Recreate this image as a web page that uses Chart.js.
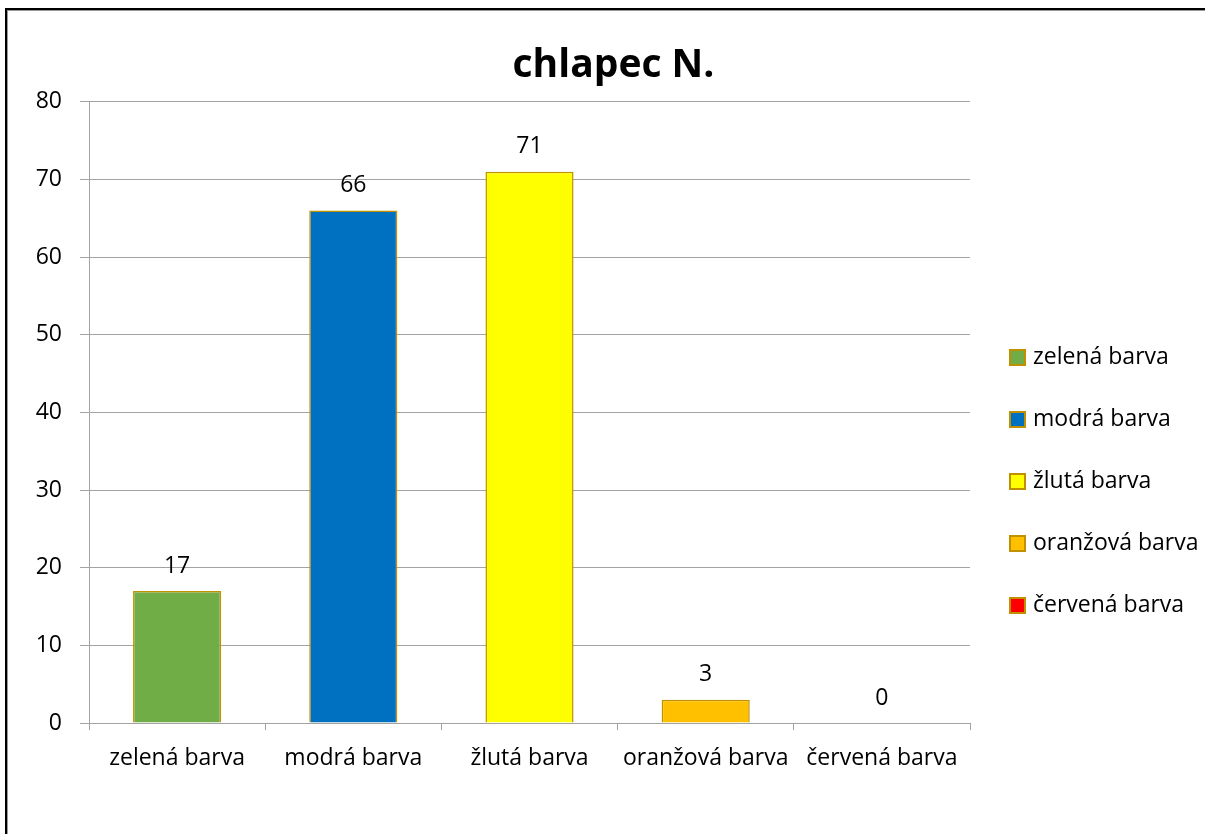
<!DOCTYPE html>
<html>
<head>
<meta charset="utf-8">
<script src="https://cdn.jsdelivr.net/npm/chart.js@4"></script>
<style>
  html, body { margin: 0; padding: 0; background: #fff; overflow: hidden; }
  #wrap { position: relative; width: 1205px; height: 834px; }
  #frame {
    position: absolute; left: 5px; top: 8px; width: 1300px; height: 900px;
    border-left: 2px solid #000; border-top: 2px solid #000;
    box-shadow: 1px 1px 0 #999 inset;
    pointer-events: none;
  }
  canvas { position: absolute; left: 0; top: 0; }
</style>
</head>
<body>
<div id="wrap">
  <canvas id="chart" width="1205" height="834"></canvas>
  <div id="frame"></div>
</div>
<script>
// chart data
const chartTitle = "chlapec N.";
const categories = ["zelená barva", "modrá barva", "žlutá barva", "oranžová barva", "červená barva"];
const values = [17, 66, 71, 3, 0];
const barColors = ["#70ad47", "#0070c0", "#ffff00", "#ffc000", "#ff0000"];
const yTicks = [0, 10, 20, 30, 40, 50, 60, 70, 80];

const fontFamily = "'Open Sans', 'DejaVu Sans', sans-serif";
const edgeColor = "#bf9000";
const gridColor = "#a3a3a3";

// value labels above each bar
const valueLabels = {
  id: "valueLabels",
  afterDatasetsDraw(chart) {
    const ctx = chart.ctx;
    const meta = chart.getDatasetMeta(0);
    ctx.save();
    ctx.font = "23px " + fontFamily;
    ctx.fillStyle = "#000";
    ctx.textAlign = "center";
    ctx.textBaseline = "middle";
    meta.data.forEach(function (bar, i) {
      ctx.fillText(String(values[i]), bar.x, bar.y - 25);
    });
    ctx.restore();
  }
};

// legend on the right, one entry per category
const sideLegend = {
  id: "sideLegend",
  afterDraw(chart) {
    const ctx = chart.ctx;
    const x = chart.chartArea.right + 40;
    const step = 62;
    const midY = 481;
    const startY = midY - step * (categories.length - 1) / 2;
    ctx.save();
    ctx.font = "23px " + fontFamily;
    ctx.textBaseline = "middle";
    ctx.textAlign = "left";
    categories.forEach(function (name, i) {
      const y = startY + i * step;
      ctx.fillStyle = barColors[i];
      ctx.fillRect(x, y - 7, 15, 15);
      ctx.strokeStyle = edgeColor;
      ctx.lineWidth = 2;
      ctx.strokeRect(x, y - 7, 15, 15);
      ctx.fillStyle = "#000";
      ctx.fillText(name, x + 23, y);
    });
    ctx.restore();
  }
};

const ctx = document.getElementById("chart").getContext("2d");
const chart = new Chart(ctx, {
  type: "bar",
  data: {
    labels: categories,
    datasets: [
      {
        label: chartTitle,
        data: values,
        backgroundColor: barColors,
        borderColor: edgeColor,
        borderWidth: 1.5,
        categoryPercentage: 1.0,
        barPercentage: 0.5
      }
    ]
  },
  options: {
    responsive: false,
    animation: false,
    devicePixelRatio: 1,
    layout: {
      padding: { left: 22, right: 0, top: 0, bottom: 0 }
    },
    plugins: {
      legend: { display: false },
      tooltip: { enabled: false },
      title: {
        display: true,
        text: chartTitle,
        color: "#000",
        font: { family: fontFamily, size: 39, weight: "bold" },
        padding: { top: 42, bottom: 13 }
      }
    },
    scales: {
      x: {
        offset: true,
        grid: {
          offset: true,
          drawOnChartArea: false,
          drawTicks: true,
          tickLength: 7,
          color: gridColor
        },
        border: { color: gridColor },
        ticks: {
          color: "#000",
          font: { family: fontFamily, size: 23 },
          padding: 15,
          maxRotation: 0,
          autoSkip: false
        },
        afterFit(scale) {
          scale.height = 111;
        }
      },
      y: {
        min: 0,
        max: 80,
        afterBuildTicks(scale) {
          scale.ticks = yTicks.map(function (v) { return { value: v }; });
        },
        grid: { color: gridColor, tickLength: 9 },
        border: { color: gridColor },
        ticks: {
          color: "#000",
          font: { family: fontFamily, size: 23 },
          padding: 18
        },
        afterFit(scale) {
          scale.width = 67;
        }
      },
      // empty right-hand column that leaves room for the legend
      legendSpace: {
        type: "linear",
        position: "right",
        display: true,
        grid: { display: false },
        border: { display: false },
        ticks: { display: false },
        afterFit(scale) {
          scale.width = 235;
        }
      }
    }
  },
  plugins: [valueLabels, sideLegend]
});
</script>
</body>
</html>
